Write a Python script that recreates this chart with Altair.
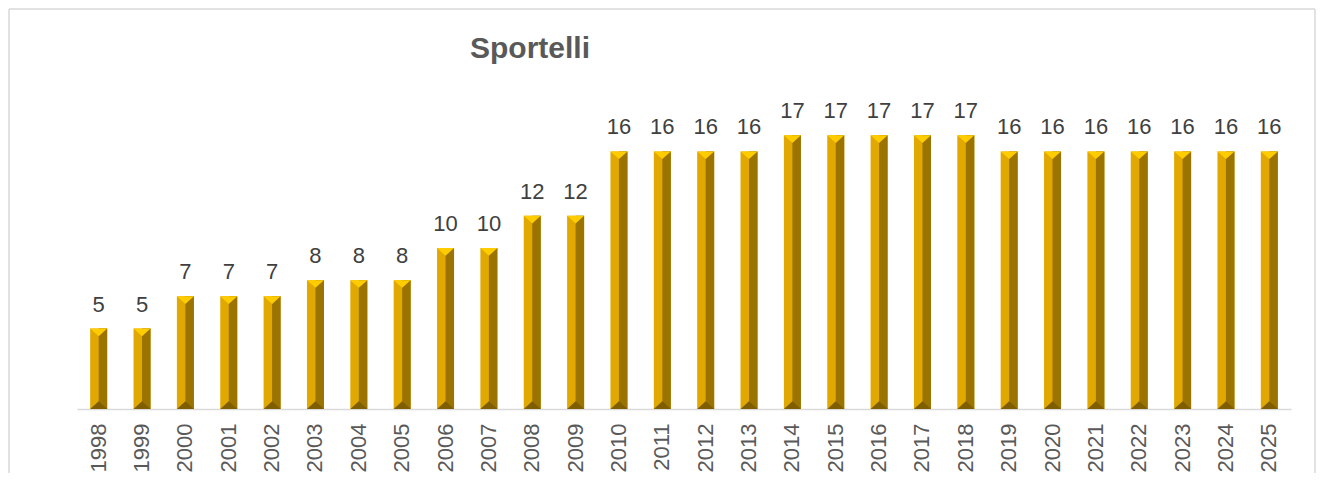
import altair as alt
import pandas as pd

years = [str(y) for y in range(1998, 2026)]
values = [5, 5, 7, 7, 7, 8, 8, 8, 10, 10, 12, 12,
          16, 16, 16, 16, 17, 17, 17, 17, 17,
          16, 16, 16, 16, 16, 16, 16]
title_text = "Sportelli"

df = pd.DataFrame({"year": years, "value": values})

W, H = 1214, 322
BAR = 17

x = alt.X("year:N", sort=years,
          scale=alt.Scale(paddingInner=0.6, paddingOuter=0.3),
          axis=alt.Axis(title=None, labelAngle=-90, labelFontSize=22,
                        labelColor="#595959", labelFont="Liberation Sans",
                        labelPadding=14, ticks=False, domainColor="#D9D9D9",
                        domainWidth=1.5, grid=False))
y = alt.Y("value:Q", scale=alt.Scale(domain=[0, 20], nice=False),
          axis=None)

base = alt.Chart(df)

light = base.mark_bar(size=BAR, color="#E0A800").encode(x=x, y=y)
dark = base.mark_bar(size=BAR / 2, xOffset=BAR / 4, color="#9A7300").encode(x=x, y=y)
top_tri = base.mark_point(shape="M-1,0L1,0L0,0.9Z", size=BAR * BAR, filled=True,
                          opacity=1, color="#FFCC00").encode(x=x, y=y)
bot_tri = base.mark_point(shape="M-1,0L0,-0.9L1,0Z", size=BAR * BAR, filled=True,
                          opacity=1, color="#7E5E00").encode(
    x=x, y=alt.Y("zero:Q", scale=alt.Scale(domain=[0, 20], nice=False), axis=None)
).transform_calculate(zero="0")
labels = base.mark_text(baseline="alphabetic", dy=-17, fontSize=22,
                        font="Liberation Sans", color="#404040").encode(
    x=x, y=y, text="value:Q")

one = alt.Data(values=[{}])
border = alt.Chart(one).mark_rule(
    color="#D9D9D9", strokeWidth=1.5).encode(
    x=alt.value(-68), x2=alt.value(1238), y=alt.value(-78))
border_l = alt.Chart(one).mark_rule(
    color="#D9D9D9", strokeWidth=1.5).encode(
    x=alt.value(-68), y=alt.value(-78), y2=alt.value(400))
border_r = alt.Chart(one).mark_rule(
    color="#D9D9D9", strokeWidth=1.5).encode(
    x=alt.value(1238), y=alt.value(-78), y2=alt.value(400))

title = alt.Chart(one).mark_text(
    text=title_text, align="left", baseline="alphabetic", fontSize=30,
    font="Liberation Sans", fontWeight="bold", color="#595959").encode(
    x=alt.value(393), y=alt.value(-29))

chart = alt.layer(light, dark, top_tri, bot_tri, labels,
                  border, border_l, border_r, title).properties(
    width=W, height=H,
    autosize=alt.AutoSizeParams(type="none"),
    padding={"left": 69, "right": 26, "top": 79, "bottom": 64},
).configure_view(stroke=None)

chart.save("out.html", embed_options={"renderer": "svg", "actions": False})
